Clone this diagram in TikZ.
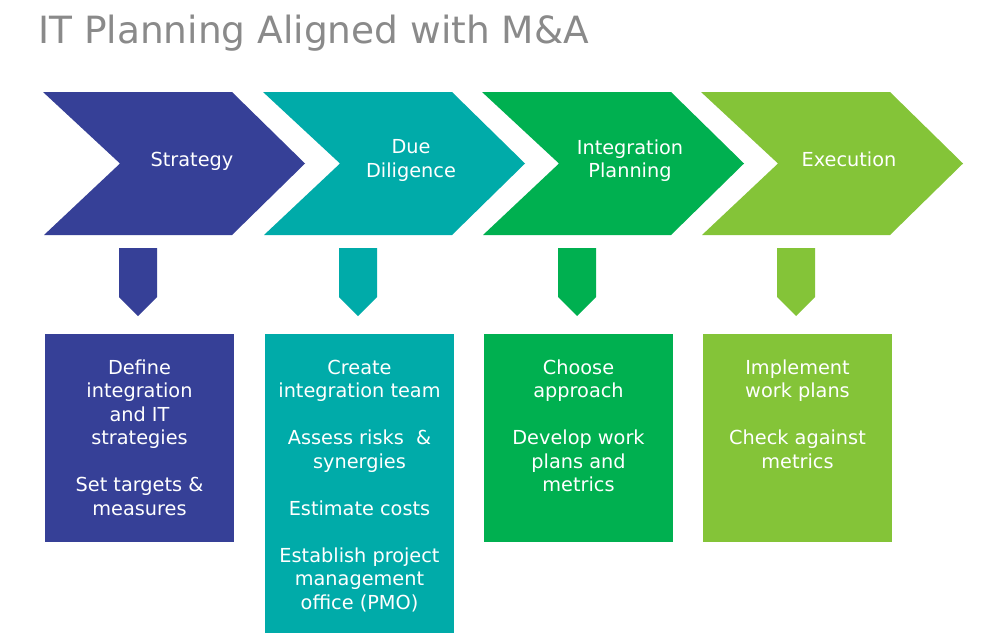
\documentclass[tikz,border=0pt]{standalone}
\usepackage{fontspec}
\setmainfont{DejaVu Sans}
\definecolor{cblue}{RGB}{54,64,151}
\definecolor{cteal}{RGB}{0,171,169}
\definecolor{cgreen}{RGB}{0,176,80}
\definecolor{clime}{RGB}{132,196,56}
\definecolor{ctitle}{RGB}{138,138,138}
\begin{document}
\begin{tikzpicture}[x=1pt,y=-1pt,
  lbl/.style={text=white,inner sep=0pt,align=center,font=\fontsize{19.3}{23.5}\selectfont},
  titlestyle/.style={text=ctitle,inner sep=0pt,anchor=base west,font=\fontsize{37.5}{45}\selectfont}]
\useasboundingbox (0,0) rectangle (1000,643);
\fill[white] (0,0) rectangle (1000,643);
\node[titlestyle] (title) at (38,43) {IT Planning Aligned with M\&A};
% chevrons, arrows, boxes
\foreach \X/\col/\bh/\nm in {43/cblue/542/a,263/cteal/633/b,482/cgreen/542/c,701/clime/542/d}{
  \fill[\col] (\X,92) -- (\X+189,92) -- (\X+262,163.5) -- (\X+189,235) -- (\X+1,235) -- (\X+77,163.5) -- cycle;
  \fill[\col] (\X+76,248) -- (\X+114,248) -- (\X+114,297) -- (\X+95,316) -- (\X+76,297) -- cycle;
  \fill[\col] (\X+1.5,334) rectangle (\X+191,\bh);
}
\node[lbl,anchor=base] (s1) at (192,166) {Strategy};
\node[lbl,anchor=north] (s2) at (411,139.5) {Due\\Diligence};
\node[lbl,anchor=north] (s3) at (630,139.5) {Integration\\Planning};
\node[lbl,anchor=base] (s4) at (849,166) {Execution};
\node[lbl,anchor=north] (t1) at (139.5,359.5) {Define\\integration\\and IT\\strategies\\[23.5pt]Set targets \&\\measures};
\node[lbl,anchor=north] (t2) at (359.5,359.5) {Create\\integration team\\[23.5pt]Assess risks\ \ \&\\synergies\\[23.5pt]Estimate costs\\[23.5pt]Establish project\\management\\office (PMO)};
\node[lbl,anchor=north] (t3) at (578.5,359.5) {Choose\\approach\\[23.5pt]Develop work\\plans and\\metrics};
\node[lbl,anchor=north] (t4) at (797.5,359.5) {Implement\\work plans\\[23.5pt]Check against\\metrics};
\end{tikzpicture}
\end{document}
